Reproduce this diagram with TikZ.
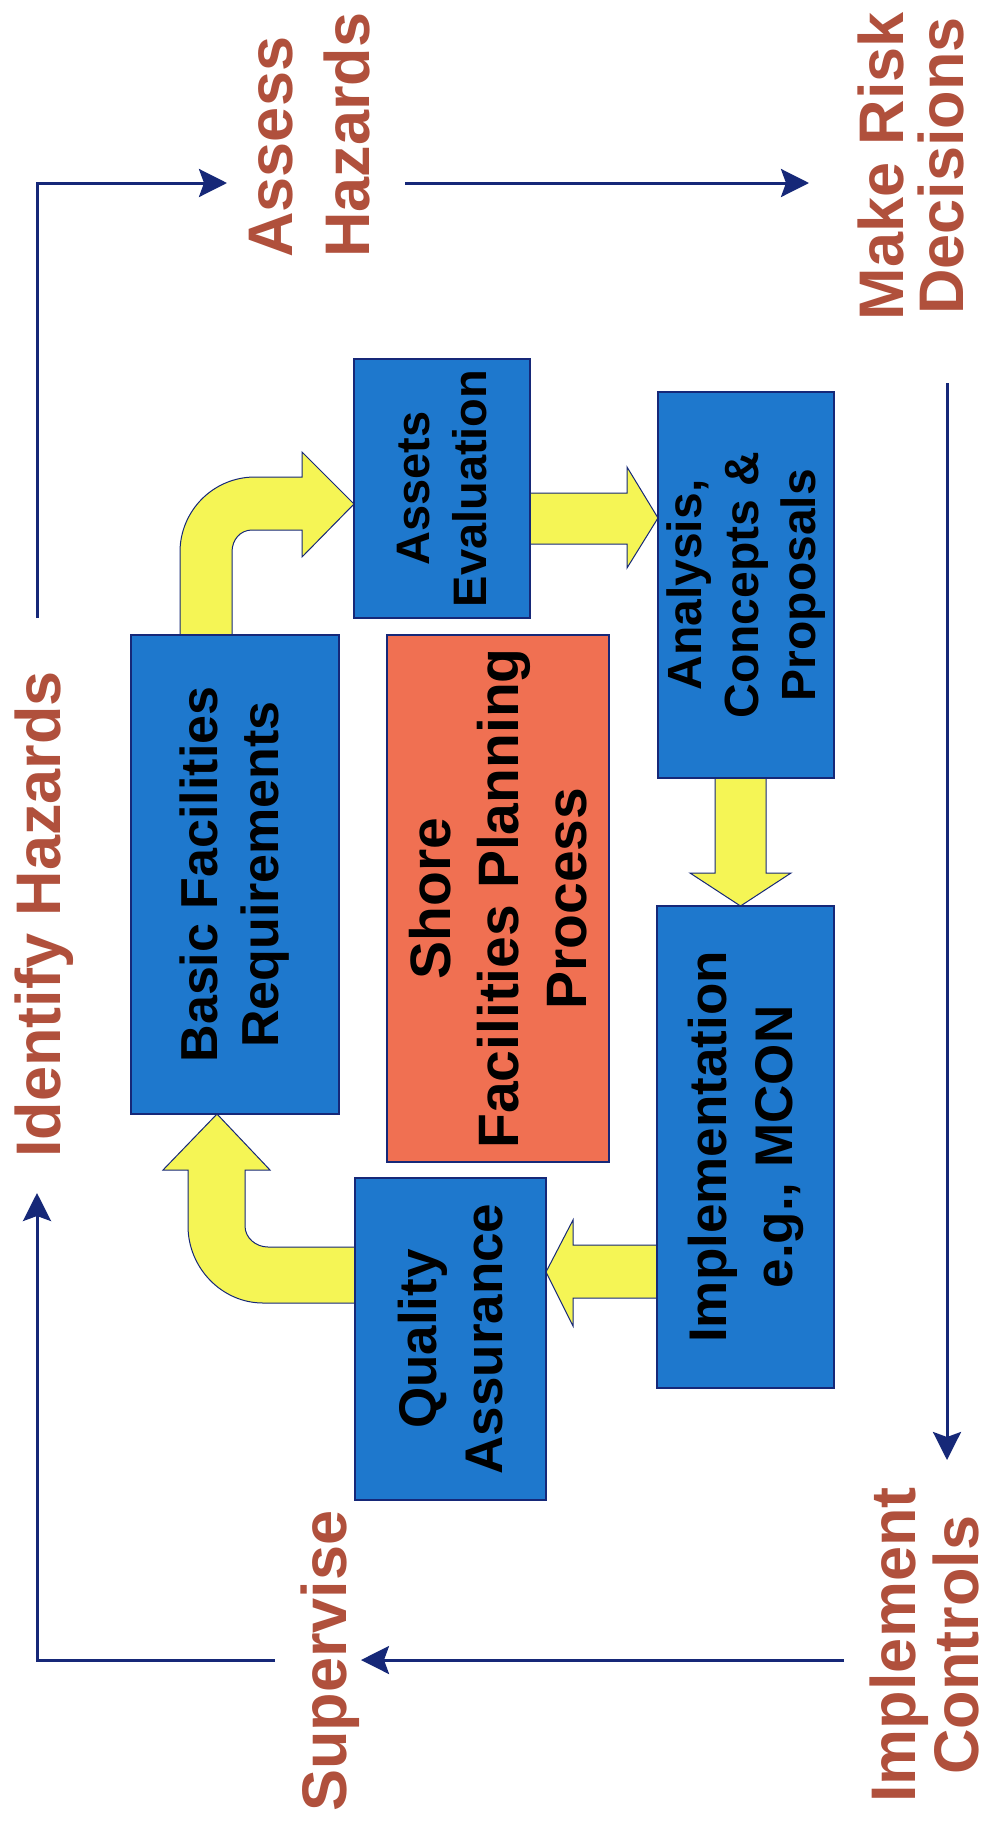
\documentclass[tikz,border=0pt]{standalone}
\usepackage{fontspec}
\setmainfont{Liberation Sans}
\usetikzlibrary{arrows.meta}
\definecolor{navy}{RGB}{22,40,120}
\definecolor{boxblue}{RGB}{30,120,205}
\definecolor{boxorange}{RGB}{240,112,82}
\definecolor{arrowyellow}{RGB}{245,245,85}
\definecolor{labelred}{RGB}{176,80,60}
\tikzset{
  stepbox/.style={draw=navy, line width=1.5pt, fill=boxblue, rotate=90, inner sep=0pt,
    align=center, text=black, font=\bfseries},
  centerbox/.style={stepbox, fill=boxorange},
  yarrow/.style={draw=navy, line width=1pt, fill=arrowyellow, line join=miter},
  flow/.style={draw=navy, line width=3pt, -{Stealth[length=28pt,width=28pt,inset=5pt]}},
  steplabel/.style={rotate=90, inner sep=0pt, text=labelred, font=\bfseries}
}
\begin{document}
\begin{tikzpicture}[x=1pt,y=-1pt]
\useasboundingbox[fill=white] (0,0) rectangle (992,1826);

% yellow block arrows (drawn first, boxes overlay)
\path[yarrow] (180,635) -- (180,552) .. controls (180,511) and (213,477) .. (255,477)
  -- (302,477) -- (302,452) -- (354,504) -- (302,557) -- (302,530) -- (252,530)
  .. controls (240,530) and (232,540) .. (232,552) -- (232,635) -- cycle;
\path[yarrow] (530,493) -- (627,493) -- (627,467) -- (658,518) -- (627,568) -- (627,544) -- (530,544) -- cycle;
\path[yarrow] (715,778) -- (715,873) -- (690,873) -- (740.5,906) -- (791,873) -- (766,873) -- (766,778) -- cycle;
\path[yarrow] (657,1245) -- (573,1245) -- (573,1220) -- (546,1272) -- (573,1326) -- (573,1298) -- (657,1298) -- cycle;
\path[yarrow] (355,1247) -- (268,1247) .. controls (256,1247) and (245,1238) .. (245,1226)
  -- (245,1170) -- (270,1170) -- (217,1114) -- (163,1170) -- (188,1170)
  -- (188,1226) .. controls (188,1268) and (222,1303) .. (263,1303) -- (355,1303) -- cycle;

% boxes (rotated: minimum width = screen height, minimum height = screen width)
\node[stepbox, minimum width=479pt, minimum height=208pt, font=\bfseries\fontsize{52}{61}\selectfont]
  (bfr) at (235,874.5) {Basic Facilities\\Requirements};
\node[centerbox, minimum width=527pt, minimum height=222pt, font=\bfseries\fontsize{57}{68}\selectfont]
  (sfp) at (498,898.5) {Shore\\Facilities Planning\\Process};
\node[stepbox, minimum width=259pt, minimum height=176pt, font=\bfseries\fontsize{47}{57}\selectfont]
  (ae) at (442,488.5) {Assets\\Evaluation};
\node[stepbox, minimum width=386pt, minimum height=176pt, font=\bfseries\fontsize{48}{57}\selectfont]
  (acp) at (746,585) {Analysis,\\Concepts \&\\Proposals};
\node[stepbox, minimum width=482pt, minimum height=177pt, font=\bfseries\fontsize{53}{66}\selectfont]
  (imp) at (745.5,1147) {Implementation\\e.g., MCON};
\node[stepbox, minimum width=322pt, minimum height=191pt, font=\bfseries\fontsize{53}{66}\selectfont]
  (qa) at (450.5,1339) {Quality\\Assurance};

% outer labels
\node[steplabel, anchor=base, font=\bfseries\fontsize{63}{76}\selectfont] (idh) at (60,914.5) {Identify Hazards};
\node[steplabel, align=left, font=\bfseries\fontsize{63}{77}\selectfont] (ash) at (310,135) {Assess\\Hazards};
\node[steplabel, align=center, font=\bfseries\fontsize{63}{60}\selectfont] (mrd) at (910.5,166) {Make Risk\\Decisions};
\node[steplabel, align=center, font=\bfseries\fontsize{63}{63}\selectfont] (ic) at (924,1645) {Implement\\Controls};
\node[steplabel, anchor=base, font=\bfseries\fontsize{63}{76}\selectfont] (sv) at (346,1661) {Supervise};

% connector end points
\coordinate (ihtop) at (37,618);
\coordinate (tl) at (37,183);
\coordinate (ahin) at (227,183);
\coordinate (ahout) at (405,183);
\coordinate (mrin) at (809,183);
\coordinate (mrout) at (947,383);
\coordinate (icin) at (947,1460);
\coordinate (icout) at (844,1660);
\coordinate (svin) at (361,1660);
\coordinate (svout) at (275,1660);
\coordinate (bl) at (37,1660);
\coordinate (ihin) at (37,1193);

\draw[flow] (ihtop) -- (tl) -- (ahin);
\draw[flow] (ahout) -- (mrin);
\draw[flow] (mrout) -- (icin);
\draw[flow] (icout) -- (svin);
\draw[flow] (svout) -- (bl) -- (ihin);
\end{tikzpicture}
\end{document}
